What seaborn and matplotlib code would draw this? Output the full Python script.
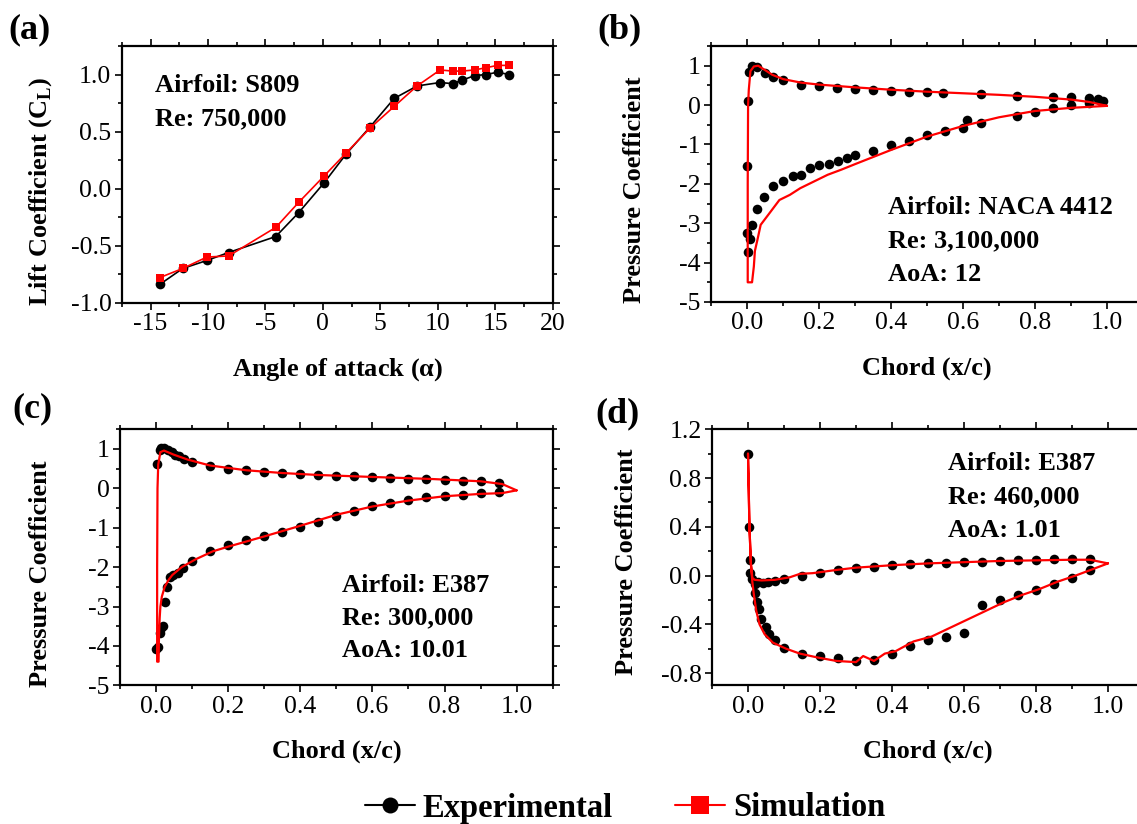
import matplotlib
matplotlib.use("Agg")
import matplotlib.pyplot as plt
from matplotlib.ticker import MultipleLocator, FuncFormatter
from matplotlib.lines import Line2D
import pandas as pd
import seaborn as sns

# ---------------- (a) S809 lift curve ----------------
aoa_a = [-14.2, -12.2, -10.1, -8.2, -4.1, -2.1, 0.1, 2.0, 4.1, 6.2, 8.2,
         10.2, 11.3, 12.1, 13.2, 14.2, 15.2, 16.2]
cl_exp_a = [-0.84, -0.70, -0.63, -0.56, -0.42, -0.21, 0.05, 0.30, 0.54, 0.79, 0.90,
            0.93, 0.92, 0.95, 0.99, 1.00, 1.02, 1.00]
cl_sim_a = [-0.78, -0.70, -0.60, -0.59, -0.34, -0.12, 0.11, 0.31, 0.53, 0.72, 0.90,
            1.04, 1.03, 1.03, 1.04, 1.06, 1.08, 1.08]

# ---------------- (b) NACA 4412, AoA 12 ----------------
xb_exp_pres = [0.002, 0.006, 0.013, 0.027, 0.05, 0.073, 0.10, 0.15, 0.20, 0.25, 0.30,
               0.35, 0.40, 0.45, 0.50, 0.545, 0.65, 0.75, 0.85, 0.90, 0.95, 0.975, 0.99]
cpb_exp_pres = [0.10, 0.84, 0.99, 0.96, 0.82, 0.72, 0.63, 0.52, 0.48, 0.43, 0.41,
                0.39, 0.37, 0.34, 0.32, 0.31, 0.29, 0.24, 0.21, 0.21, 0.17, 0.15, 0.11]
xb_exp_suct = [0.0, 0.0, 0.008, 0.002, 0.014, 0.027, 0.048, 0.073, 0.10, 0.127, 0.15,
               0.176, 0.20, 0.227, 0.252, 0.278, 0.30, 0.35, 0.40, 0.45, 0.50, 0.55,
               0.60, 0.61, 0.65, 0.75, 0.80, 0.85, 0.90, 0.95]
cpb_exp_suct = [-1.54, -3.24, -3.41, -3.72, -3.04, -2.64, -2.34, -2.05, -1.92, -1.79, -1.77,
                -1.60, -1.53, -1.49, -1.41, -1.35, -1.28, -1.16, -1.01, -0.91, -0.76, -0.65,
                -0.57, -0.38, -0.46, -0.28, -0.18, -0.08, 0.0, 0.06]
xb_sim = [1.0, 0.95, 0.9, 0.8, 0.7, 0.6, 0.5, 0.4, 0.3, 0.2, 0.15, 0.1, 0.07, 0.05,
          0.031, 0.019, 0.0095, 0.005, 0.003, 0.002, 0.002,
          0.014, 0.019, 0.022, 0.029, 0.038, 0.062, 0.09, 0.119, 0.148, 0.186, 0.224,
          0.262, 0.3, 0.4, 0.5, 0.6, 0.7, 0.8, 0.9, 1.0]
cpb_sim = [-0.02, 0.08, 0.14, 0.21, 0.26, 0.30, 0.34, 0.39, 0.45, 0.52, 0.57, 0.66, 0.77, 0.89,
           1.0, 0.98, 0.86, 0.39, 0.0, -2.0, -4.5,
           -4.5, -4.1, -3.7, -3.42, -3.04, -2.75, -2.41, -2.28, -2.11, -1.94, -1.77,
           -1.64, -1.5, -1.14, -0.8, -0.53, -0.31, -0.15, -0.07, -0.02]

# ---------------- (c) E387, Re 300,000, AoA 10.01 ----------------
xc_exp_pres = [0.003, 0.01, 0.015, 0.022, 0.032, 0.043, 0.053, 0.063, 0.078, 0.10, 0.15,
               0.20, 0.25, 0.30, 0.35, 0.40, 0.45, 0.50, 0.55, 0.60, 0.65, 0.70, 0.75,
               0.80, 0.85, 0.90, 0.95]
cpc_exp_pres = [0.62, 0.97, 1.02, 1.02, 0.98, 0.92, 0.86, 0.81, 0.75, 0.68, 0.57,
                0.49, 0.46, 0.42, 0.39, 0.36, 0.34, 0.32, 0.31, 0.29, 0.27, 0.25, 0.24,
                0.22, 0.20, 0.18, 0.14]
xc_exp_suct = [0.0, 0.005, 0.01, 0.015, 0.019, 0.024, 0.029, 0.038, 0.048, 0.062, 0.076,
               0.10, 0.15, 0.20, 0.25, 0.30, 0.35, 0.40, 0.45, 0.50, 0.55, 0.60, 0.65,
               0.70, 0.75, 0.80, 0.85, 0.90, 0.95]
cpc_exp_suct = [-4.08, -4.04, -3.68, -3.55, -3.50, -2.88, -2.50, -2.25, -2.20, -2.14, -2.03,
                -1.85, -1.60, -1.43, -1.31, -1.20, -1.12, -0.98, -0.86, -0.71, -0.58, -0.46,
                -0.37, -0.29, -0.23, -0.19, -0.16, -0.12, -0.10]
xc_sim = [1.0, 0.96, 0.9, 0.76, 0.6, 0.45, 0.35, 0.25, 0.15, 0.088, 0.048, 0.022, 0.012,
          0.006, 0.004, 0.003, 0.003,
          0.007, 0.008, 0.010, 0.012, 0.016, 0.024, 0.035, 0.045, 0.071, 0.11, 0.157,
          0.2, 0.3, 0.4, 0.5, 0.6, 0.7, 0.8, 0.9, 0.96, 1.0]
cpc_sim = [-0.05, 0.11, 0.18, 0.24, 0.29, 0.34, 0.39, 0.46, 0.58, 0.73, 0.86, 0.96, 0.92,
           0.6, 0.0, -2.0, -4.4,
           -4.4, -3.8, -3.3, -3.0, -2.75, -2.5, -2.32, -2.2, -2.0, -1.8, -1.6,
           -1.48, -1.22, -0.95, -0.67, -0.46, -0.31, -0.20, -0.14, -0.12, -0.05]

# ---------------- (d) E387, Re 460,000, AoA 1.01 ----------------
xd_exp_pres = [0.0, 0.003, 0.005, 0.006, 0.012, 0.028, 0.042, 0.056, 0.074, 0.10, 0.15,
               0.20, 0.25, 0.30, 0.35, 0.40, 0.45, 0.50, 0.55, 0.60, 0.65, 0.70, 0.75,
               0.80, 0.85, 0.90, 0.95]
cpd_exp_pres = [1.0, 0.40, 0.13, 0.02, -0.03, -0.055, -0.06, -0.055, -0.046, -0.03, 0.0,
                0.025, 0.044, 0.06, 0.07, 0.085, 0.093, 0.10, 0.107, 0.112, 0.115, 0.12,
                0.126, 0.129, 0.137, 0.14, 0.14]
xd_exp_suct = [0.019, 0.019, 0.025, 0.031, 0.037, 0.049, 0.058, 0.074, 0.10, 0.15, 0.20,
               0.25, 0.30, 0.35, 0.40, 0.45, 0.50, 0.55, 0.60, 0.65, 0.70, 0.75, 0.80,
               0.85, 0.90, 0.95]
cpd_exp_suct = [-0.07, -0.14, -0.22, -0.27, -0.36, -0.42, -0.48, -0.53, -0.59, -0.64, -0.66,
                -0.68, -0.70, -0.69, -0.64, -0.58, -0.53, -0.50, -0.47, -0.245, -0.20, -0.16,
                -0.117, -0.07, -0.016, 0.047]
xd_sim = [1.0, 0.95, 0.9, 0.8, 0.7, 0.6, 0.5, 0.4, 0.3, 0.245, 0.18, 0.144, 0.116, 0.074,
          0.037, 0.019, 0.012, 0.008, 0.004, 0.0,
          0.004, 0.008, 0.012, 0.016, 0.023, 0.032, 0.046, 0.069, 0.106, 0.144, 0.19,
          0.245, 0.3, 0.32, 0.35, 0.38, 0.41, 0.46, 0.51, 0.56, 0.61, 0.66, 0.71, 0.76,
          0.81, 0.86, 0.91, 1.0]
cpd_sim = [0.10, 0.13, 0.13, 0.125, 0.12, 0.11, 0.10, 0.085, 0.065, 0.046, 0.02, 0.014,
           -0.014, -0.035, -0.04, -0.035, -0.02, 0.10, 0.40, 1.0,
           0.40, 0.10, -0.05, -0.15, -0.29, -0.40, -0.48, -0.55, -0.60, -0.64, -0.67,
           -0.70, -0.71, -0.66, -0.70, -0.64, -0.62, -0.54, -0.50, -0.43, -0.36, -0.29,
           -0.22, -0.16, -0.11, -0.05, 0.0, 0.10]

panel_text = {
    "a": ["Airfoil: S809", "Re: 750,000"],
    "b": ["Airfoil: NACA 4412", "Re: 3,100,000", "AoA: 12"],
    "c": ["Airfoil: E387", "Re: 300,000", "AoA: 10.01"],
    "d": ["Airfoil: E387", "Re: 460,000", "AoA: 1.01"],
}

# ---------------- styling ----------------
sns.set_theme(style="ticks")
plt.rcParams.update({
    "font.family": ["Liberation Serif", "DejaVu Serif"],
    "axes.unicode_minus": False,
    "mathtext.fontset": "custom",
    "mathtext.rm": "Liberation Serif",
    "mathtext.bf": "Liberation Serif:bold",
    "text.color": "black",
    "axes.labelcolor": "black",
    "axes.edgecolor": "black",
    "xtick.color": "black",
    "ytick.color": "black",
})

W, H = 1137, 824
fig = plt.figure(figsize=(W / 100, H / 100), dpi=100)


def px_axes(left, top, right, bottom):
    return fig.add_axes([left / W, 1 - bottom / H, (right - left) / W, (bottom - top) / H])


def fmt(decimals):
    return FuncFormatter(lambda v, _: f"{round(v, decimals) + 0.0:.{decimals}f}")


def style(ax, xlim, ylim, xmaj, ymaj, xdec, ydec):
    ax.set_xlim(*xlim)
    ax.set_ylim(*ylim)
    ax.xaxis.set_major_locator(MultipleLocator(xmaj))
    ax.xaxis.set_minor_locator(MultipleLocator(xmaj / 2))
    ax.yaxis.set_major_locator(MultipleLocator(ymaj))
    ax.yaxis.set_minor_locator(MultipleLocator(ymaj / 2))
    ax.xaxis.set_major_formatter(fmt(xdec))
    ax.yaxis.set_major_formatter(fmt(ydec))
    ax.tick_params(which="both", direction="out", top=True, right=True,
                   labeltop=False, labelright=False, width=1.2, labelsize=18.5, pad=2.5)
    ax.tick_params(which="major", length=5)
    ax.tick_params(which="minor", length=3)
    for s in ax.spines.values():
        s.set_linewidth(1.6)
        s.set_color("black")


def labels(ax, xlabel, ylabel, xl_y, yl_x, yl_y):
    ax.set_xlabel(xlabel, fontsize=19, fontweight="bold")
    ax.set_ylabel(ylabel, fontsize=19, fontweight="bold")
    ax.xaxis.label.set_verticalalignment("baseline")
    ax.xaxis.set_label_coords(0.5, xl_y)
    ax.yaxis.label.set_verticalalignment("baseline")
    ax.yaxis.set_label_coords(yl_x, yl_y)


def annotate(ax, key, x, ys):
    for line, y in zip(panel_text[key], ys):
        ax.text(x, y, line, transform=ax.transAxes, fontsize=19, fontweight="bold",
                ha="left", va="baseline")


def cp_panel(ax, xp, cpp, xs, cps, xsim, cpsim):
    exp = pd.DataFrame({"x": xp + xs, "cp": cpp + cps})
    sim = pd.DataFrame({"x": xsim, "cp": cpsim})
    sns.scatterplot(data=exp, x="x", y="cp", color="black", s=48, linewidth=0,
                    ax=ax, zorder=2)
    sns.lineplot(data=sim, x="x", y="cp", sort=False, estimator=None, color="red",
                 lw=1.6, ax=ax, zorder=3)


# (a)
ax_a = px_axes(121.8, 46, 552.7, 302.7)
df_a = pd.DataFrame({"aoa": aoa_a, "exp": cl_exp_a, "sim": cl_sim_a})
sns.lineplot(data=df_a, x="aoa", y="exp", color="black", marker="o", markersize=7,
             markeredgecolor="black", markeredgewidth=0, lw=1.2, ax=ax_a, zorder=2)
sns.lineplot(data=df_a, x="aoa", y="sim", color="red", marker="s", markersize=6,
             markeredgecolor="red", markeredgewidth=0, lw=1.2, ax=ax_a, zorder=3)
style(ax_a, (-17.5, 20), (-1.0, 1.25), 5, 0.5, 0, 1)
labels(ax_a, r"Angle of attack ($\mathregular{\alpha}$)",
       r"Lift Coefficient (C$_\mathbf{L}$)", -0.282, -0.174, 0.435)
annotate(ax_a, "a", 0.078, [0.821, 0.692])

# (b)
ax_b = px_axes(711, 46, 1143, 302)
cp_panel(ax_b, xb_exp_pres, cpb_exp_pres, xb_exp_suct, cpb_exp_suct, xb_sim, cpb_sim)
style(ax_b, (-0.1, 1.1), (-5, 1.5), 0.2, 1, 1, 0)
labels(ax_b, "Chord (x/c)", "Pressure Coefficient", -0.285, -0.163, 0.4375)
annotate(ax_b, "b", 0.409, [0.344, 0.214, 0.081])

# (c)
ax_c = px_axes(120, 429.3, 552.7, 685.3)
cp_panel(ax_c, xc_exp_pres, cpc_exp_pres, xc_exp_suct, cpc_exp_suct, xc_sim, cpc_sim)
style(ax_c, (-0.1, 1.1), (-5, 1.5), 0.2, 1, 1, 0)
labels(ax_c, "Chord (x/c)", "Pressure Coefficient", -0.284, -0.168, 0.4375)
annotate(ax_c, "c", 0.513, [0.366, 0.237, 0.109])

# (d)
ax_d = px_axes(712, 429.3, 1144, 685.3)
cp_panel(ax_d, xd_exp_pres, cpd_exp_pres, xd_exp_suct, cpd_exp_suct, xd_sim, cpd_sim)
style(ax_d, (-0.1, 1.1), (-0.9, 1.2), 0.2, 0.4, 1, 1)
labels(ax_d, "Chord (x/c)", "Pressure Coefficient", -0.284, -0.182, 0.483)
annotate(ax_d, "d", 0.546, [0.841, 0.711, 0.578])

# panel letters
for letter, (px, py) in {"(a)": (8, 38), "(b)": (597, 38),
                         "(c)": (12, 417), "(d)": (595, 422)}.items():
    fig.text(px / W, 1 - py / H, letter, fontsize=26, fontweight="bold",
             ha="left", va="baseline")

# shared legend
handles = [
    Line2D([0], [0], color="black", lw=1.5, marker="o", markersize=11.5,
           markeredgewidth=0),
    Line2D([0], [0], color="red", lw=1.5, marker="s", markersize=12.5,
           markeredgewidth=0),
]
fig.legend(handles, ["Experimental", "Simulation"], loc="center",
           bbox_to_anchor=(625 / W, 1 - 808 / H), ncol=2, frameon=False,
           prop={"weight": "bold", "size": 23.5}, handlelength=1.53,
           handletextpad=0.23, columnspacing=1.93, borderpad=0, borderaxespad=0)

fig.savefig("out.png", dpi=100)
